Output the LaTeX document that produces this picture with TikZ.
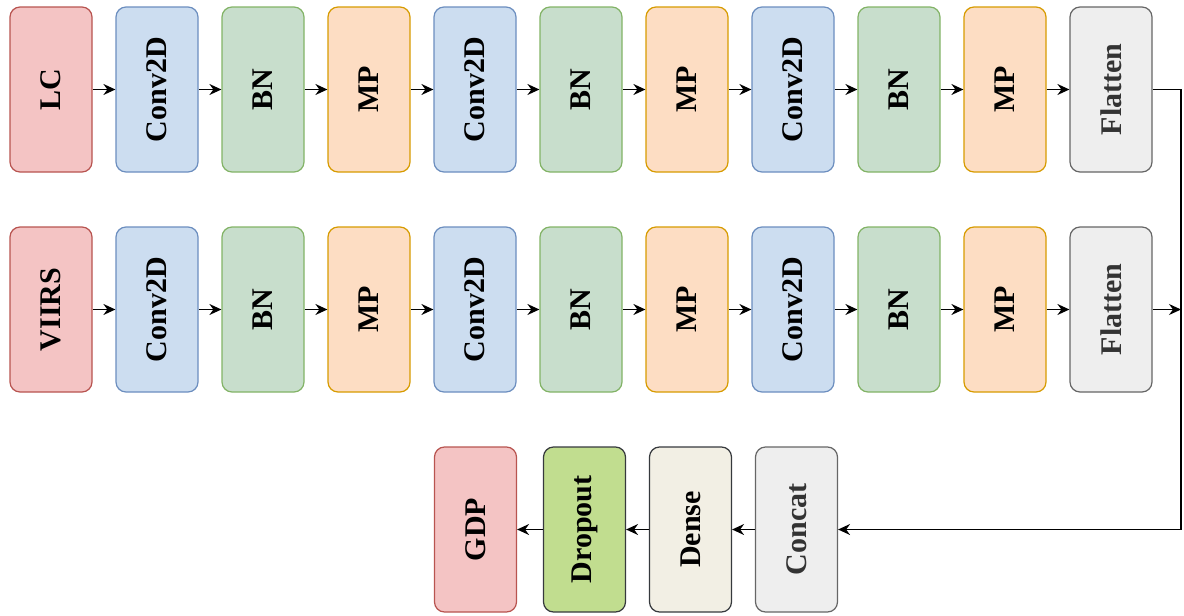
\documentclass[tikz,border=0pt]{standalone}
\usepackage{fontspec}
\setmainfont{Liberation Serif}
\usetikzlibrary{arrows.meta}
\definecolor{redF}{RGB}{244,196,196}\definecolor{redD}{RGB}{184,84,80}
\definecolor{bluF}{RGB}{204,221,240}\definecolor{bluD}{RGB}{108,142,191}
\definecolor{grnF}{RGB}{200,222,204}\definecolor{grnD}{RGB}{130,179,102}
\definecolor{orgF}{RGB}{253,221,195}\definecolor{orgD}{RGB}{215,155,0}
\definecolor{gryF}{RGB}{238,238,238}\definecolor{gryD}{RGB}{102,102,102}
\definecolor{gryT}{RGB}{51,51,51}
\definecolor{limF}{RGB}{193,221,143}\definecolor{drkD}{RGB}{54,57,61}
\definecolor{crmF}{RGB}{242,239,228}
\tikzset{
  layer/.style={draw, line width=1.2pt, rounded corners=10pt, minimum width=82pt,
    minimum height=165pt, inner sep=0pt, font=\fontsize{30}{31}\selectfont\bfseries},
  inp/.style={layer, fill=redF, draw=redD},
  conv/.style={layer, fill=bluF, draw=bluD},
  bn/.style={layer, fill=grnF, draw=grnD},
  mp/.style={layer, fill=orgF, draw=orgD},
  flat/.style={layer, fill=gryF, draw=gryD, text=gryT},
  drop/.style={layer, fill=limF, draw=drkD},
  dense/.style={layer, fill=crmF, draw=drkD},
  link/.style={line width=1.4pt, -{Stealth[length=12pt,width=11pt,inset=4pt]}},
}
\begin{document}
\begin{tikzpicture}[x=1pt,y=-1pt]
\useasboundingbox (0,0) rectangle (1184,616);
% first branch (land cover)
\node[inp]  (a0)  at (51,89.5)   {\rotatebox{90}{LC}};
\node[conv] (a1)  at (157,89.5)  {\rotatebox{90}{Conv2D}};
\node[bn]   (a2)  at (263,89.5)  {\rotatebox{90}{BN}};
\node[mp]   (a3)  at (369,89.5)  {\rotatebox{90}{MP}};
\node[conv] (a4)  at (475,89.5)  {\rotatebox{90}{Conv2D}};
\node[bn]   (a5)  at (581,89.5)  {\rotatebox{90}{BN}};
\node[mp]   (a6)  at (687,89.5)  {\rotatebox{90}{MP}};
\node[conv] (a7)  at (793,89.5)  {\rotatebox{90}{Conv2D}};
\node[bn]   (a8)  at (899,89.5)  {\rotatebox{90}{BN}};
\node[mp]   (a9)  at (1005,89.5) {\rotatebox{90}{MP}};
\node[flat] (a10) at (1111,89.5) {\rotatebox{90}{Flatten}};
% second branch (night lights)
\node[inp]  (b0)  at (51,309.5)   {\rotatebox{90}{VIIRS}};
\node[conv] (b1)  at (157,309.5)  {\rotatebox{90}{Conv2D}};
\node[bn]   (b2)  at (263,309.5)  {\rotatebox{90}{BN}};
\node[mp]   (b3)  at (369,309.5)  {\rotatebox{90}{MP}};
\node[conv] (b4)  at (475,309.5)  {\rotatebox{90}{Conv2D}};
\node[bn]   (b5)  at (581,309.5)  {\rotatebox{90}{BN}};
\node[mp]   (b6)  at (687,309.5)  {\rotatebox{90}{MP}};
\node[conv] (b7)  at (793,309.5)  {\rotatebox{90}{Conv2D}};
\node[bn]   (b8)  at (899,309.5)  {\rotatebox{90}{BN}};
\node[mp]   (b9)  at (1005,309.5) {\rotatebox{90}{MP}};
\node[flat] (b10) at (1111,309.5) {\rotatebox{90}{Flatten}};
% head
\node[flat]  (cat)  at (796.5,529.5) {\rotatebox{90}{Concat}};
\node[dense] (dns)  at (690.5,529.5) {\rotatebox{90}{Dense}};
\node[drop]  (dro)  at (584.5,529.5) {\rotatebox{90}{Dropout}};
\node[inp]   (gdp)  at (475.5,529.5) {\rotatebox{90}{GDP}};
\coordinate (j) at (1181,309.5);
\coordinate (t) at (1181,89.5);
\coordinate (bt) at (1181,529.5);
% connectors
\foreach \i [evaluate=\i as \n using int(\i+1)] in {0,...,9}{
  \draw[link] (a\i.east) -- (a\n.west);
  \draw[link] (b\i.east) -- (b\n.west);
}
\draw[link] (b10.east) -- (j);
\draw[link] (a10.east) -- (t) -- (bt) -- (cat.east);
\draw[link] (cat.west) -- (dns.east);
\draw[link] (dns.west) -- (dro.east);
\draw[link] (dro.west) -- (gdp.east);
\end{tikzpicture}
\end{document}
